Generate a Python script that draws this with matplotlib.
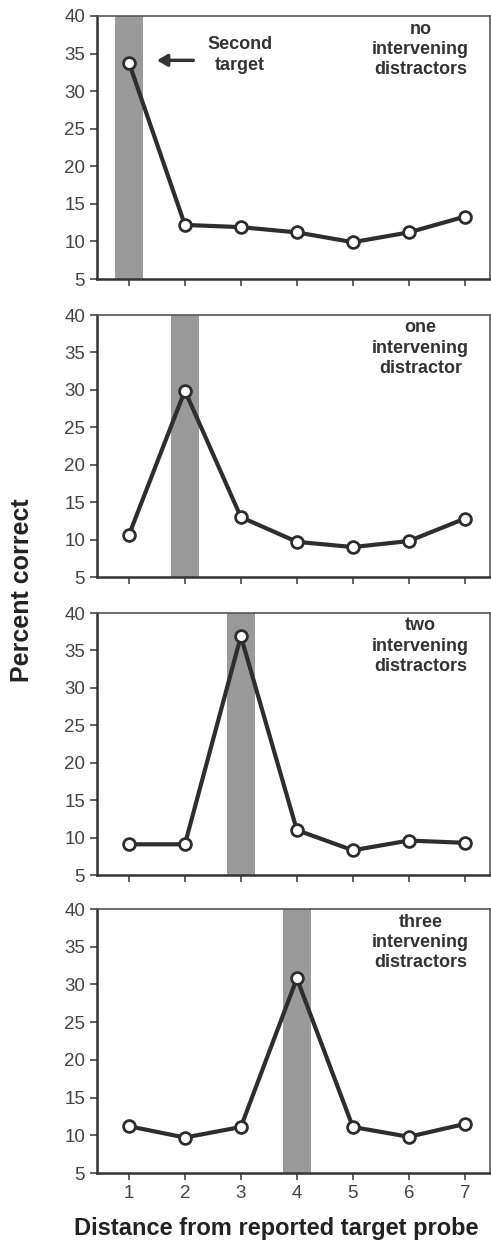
import matplotlib
matplotlib.use("Agg")
import matplotlib.pyplot as plt

plt.rcParams["font.family"] = ["Liberation Sans", "DejaVu Sans"]

distance = [1, 2, 3, 4, 5, 6, 7]
no_distractors = [33.8, 12.2, 11.9, 11.2, 9.9, 11.2, 13.3]
one_distractor = [10.6, 29.9, 13.0, 9.7, 9.0, 9.8, 12.8]
two_distractors = [9.1, 9.1, 36.9, 11.0, 8.3, 9.6, 9.3]
three_distractors = [11.2, 9.7, 11.1, 30.8, 11.1, 9.8, 11.5]
series = [no_distractors, one_distractor, two_distractors, three_distractors]
target_pos = [1, 2, 3, 4]
labels = ["no\nintervening\ndistractors",
          "one\nintervening\ndistractor",
          "two\nintervening\ndistractors",
          "three\nintervening\ndistractors"]
yticks = [5, 10, 15, 20, 25, 30, 35, 40]

W, H = 491, 1241
fig = plt.figure(figsize=(W / 100, H / 100), dpi=100)
# panel pixel extents (top, bottom)
rows = [(16, 279), (315, 577), (613, 875), (909, 1173)]
left, right = 97, 490

ink = "#2e2e2e"
for i, (vals, tp, lab, (t, b)) in enumerate(zip(series, target_pos, labels, rows)):
    ax = fig.add_axes([left / W, 1 - b / H, (right - left) / W, (b - t) / H])
    ax.axvspan(tp - 0.25, tp + 0.25, color="#9a9a9a", lw=0, zorder=0)
    ax.plot(distance, vals, "-", color=ink, lw=3.0, zorder=2)
    ax.plot(distance, vals, "o", ms=8.5, mfc="white", mec=ink, mew=2.0, zorder=3)
    ax.set_xlim(0.43, 7.45)
    ax.set_ylim(5, 40)
    ax.set_yticks(yticks)
    ax.set_xticks(distance)
    ax.tick_params(axis="both", direction="out", length=5, width=1.2,
                   colors="#444444", labelsize=13.5)
    if i < 3:
        ax.set_xticklabels([])
    for s in ["left", "bottom"]:
        ax.spines[s].set_linewidth(1.8)
        ax.spines[s].set_color("#333333")
    for s in ["top", "right"]:
        ax.spines[s].set_linewidth(1.2)
        ax.spines[s].set_color("#555555")
    ax.text(6.21, 39.4, lab, ha="center", va="top", fontsize=13,
            fontweight="bold", color="#333333", linespacing=1.25)
    if i == 0:
        ax.annotate("", xy=(1.45, 34.1), xytext=(2.2, 34.1),
                    arrowprops=dict(arrowstyle="-|>,head_length=0.6,head_width=0.35",
                                    color="#333333", lw=2.5))
        ax.text(2.98, 34.8, "Second\ntarget", ha="center", va="center",
                fontsize=13, fontweight="bold", color="#333333", linespacing=1.25)

fig.text(276 / W, 1 - 1228 / H, "Distance from reported target probe",
         ha="center", va="center", fontsize=17, fontweight="bold", color="#222222")
fig.text(22 / W, 1 - 590 / H, "Percent correct", rotation=90, ha="center",
         va="center", fontsize=18, fontweight="bold", color="#222222")

fig.savefig("out.png", dpi=100)
